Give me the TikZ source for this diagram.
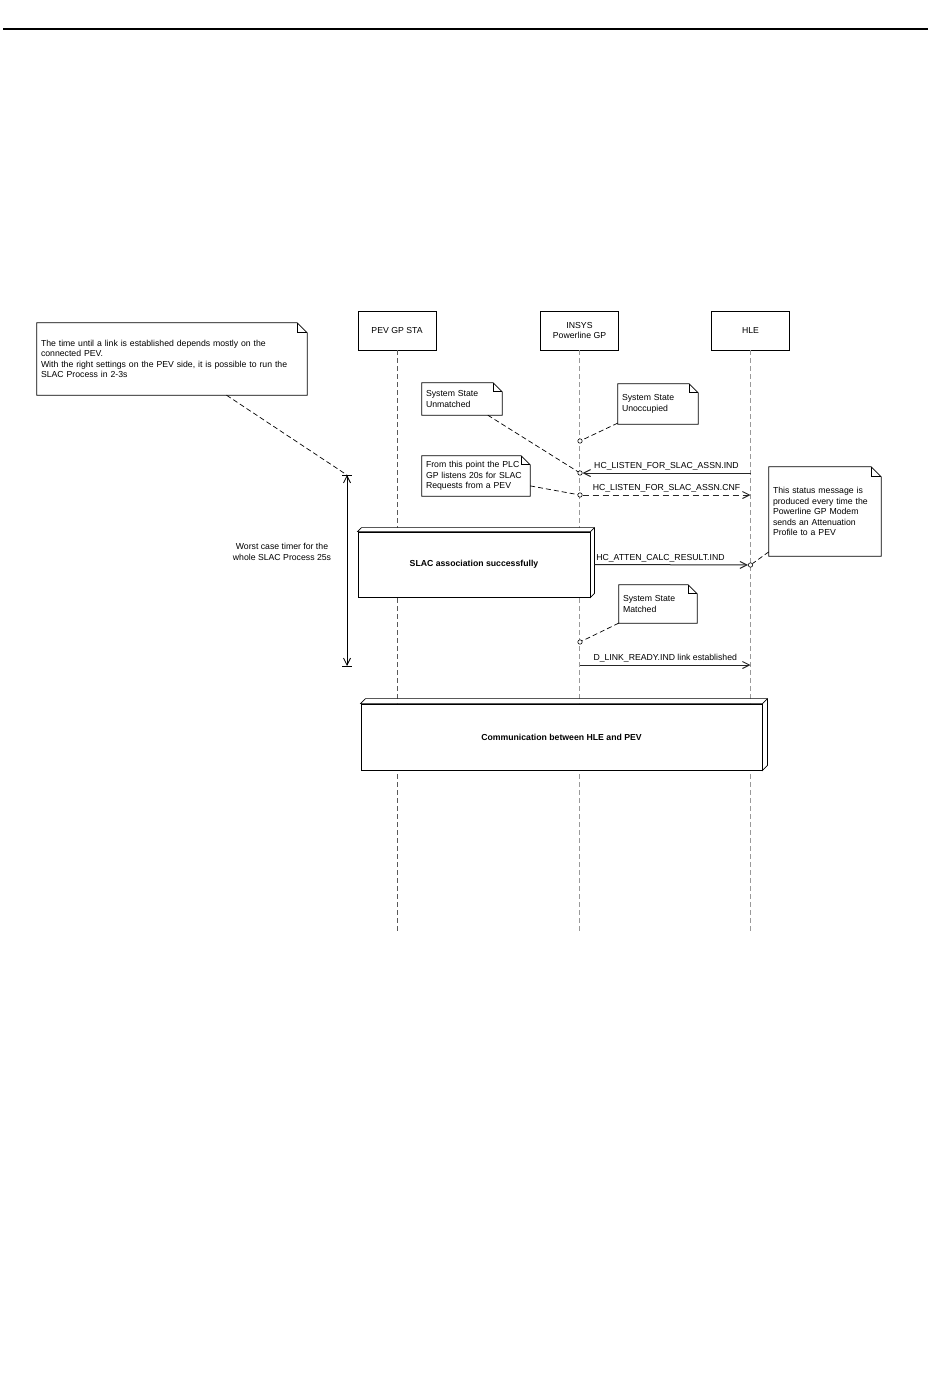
\documentclass[tikz,border=0pt]{standalone}
\usepackage{fontspec}
\setmainfont{Liberation Sans}
\usetikzlibrary{arrows.meta}

\tikzset{
  every node/.style={font=\fontsize{8.7}{10.5}\selectfont},
  actor/.style={rectangle, draw, fill=white, minimum width=78pt, minimum height=39pt,
                align=center, line width=0.8pt},
  lifeline/.style={dash pattern=on 5pt off 3pt, draw=gray!80, line width=0.7pt},
  note/.style={rectangle, fill=white, align=left, inner xsep=4pt, inner ysep=0pt},
  notelink/.style={dash pattern=on 5pt off 3pt, line width=0.7pt},
  msg/.style={line width=1pt, draw=black!85, -{Straight Barb[length=7pt,width=7pt]}},
  msglabel/.style={above=1pt, inner sep=1pt},
  anchorpt/.style={circle, draw, fill=white, inner sep=0pt, minimum size=4.4pt, line width=0.6pt},
  block/.style={rectangle, draw, fill=white, line width=0.8pt,
                font=\fontsize{8.7}{10.5}\selectfont\bfseries},
}

% note outline with folded corner
\newcommand{\dogear}[2][9pt]{%
  \draw[line width=0.7pt] (#2.north west) -- ([xshift=-#1]#2.north east)
    -- ([yshift=-#1]#2.north east) -- (#2.south east) -- (#2.south west) -- cycle;
  \draw[line width=0.7pt] ([xshift=-#1]#2.north east) -- ([xshift=-#1,yshift=-#1]#2.north east)
    -- ([yshift=-#1]#2.north east);}

% top and right faces of a 3d block
\newcommand{\slab}[2]{%
  \draw[line width=0.7pt, fill=white] (#1.north west) -- ++(#2pt,#2pt)
    -- ([shift={(#2pt,#2pt)}]#1.north east) -- ([shift={(#2pt,#2pt)}]#1.south east)
    -- (#1.south east) -- (#1.north east) -- cycle;
  \draw[line width=0.7pt] (#1.north east) -- ++(#2pt,#2pt);}

\begin{document}
\begin{tikzpicture}[x=1pt, y=-1pt]
\fill[white] (0,0) rectangle (950,1397);
\useasboundingbox (0,0) rectangle (950,1397);

\draw[line width=1.3pt] (3,29) -- (928,29);

% participants
\node[actor] (pev) at (397,330.5) {PEV GP STA};
\node[actor] (insys) at (579.5,330.5) {INSYS\\Powerline GP};
\node[actor] (hle) at (750.5,330.5) {HLE};

\coordinate (pevend) at (397,933);
\coordinate (insysend) at (579.5,933);
\coordinate (hleend) at (750.5,933);
\draw[lifeline, draw=black!65] (pev) -- (pevend);
\draw[lifeline] (insys) -- (insysend);
\draw[lifeline] (hle) -- (hleend);

% timer
\coordinate (tmtop) at (347,475);
\coordinate (tmbot) at (347,666);
\draw[line width=0.8pt, {Straight Barb[length=7pt,width=7pt]}-{Straight Barb[length=7pt,width=7pt]}] (tmtop) -- (tmbot);
\draw[line width=0.8pt] ([xshift=-5pt]tmtop) -- ([xshift=5pt]tmtop);
\draw[line width=0.8pt] ([xshift=-5pt]tmbot) -- ([xshift=5pt]tmbot);
\node[align=center] (tmlabel) at (282,552) {Worst case timer for the\\whole SLAC Process 25s};

% points on the lifelines
\node[anchorpt] (pUnocc) at (580,441) {};
\node[anchorpt] (pInd) at (580,473) {};
\node[anchorpt] (pCnf) at (580,495) {};
\node[anchorpt] (pAtten) at (750.5,565) {};
\node[anchorpt] (pMatch) at (580,642) {};

% blocks
\node[block, minimum width=232pt, minimum height=65pt] (slac) at (474,564.5) {SLAC association successfully};
\slab{slac}{4}
\node[block, minimum width=401pt, minimum height=66pt] (comm) at (561.5,737) {Communication between HLE and PEV};
\slab{comm}{5}

% messages
\coordinate (hleInd) at (750.5,473);
\coordinate (hleCnf) at (750.5,495);
\coordinate (insysLink) at (580,665);
\coordinate (hleLink) at (750.5,665);
\draw[msg] (hleInd) -- node[msglabel] {HC\_LISTEN\_FOR\_SLAC\_ASSN.IND} (pInd);
\draw[msg, dash pattern=on 6pt off 4pt] (pCnf) -- node[msglabel] {HC\_LISTEN\_FOR\_SLAC\_ASSN.CNF} (hleCnf);
\draw[msg] ([xshift=4pt]slac.east) -- node[msglabel, pos=0.43] {HC\_ATTEN\_CALC\_RESULT.IND} (pAtten);
\draw[msg] (insysLink) -- node[msglabel] {D\_LINK\_READY.IND link established} (hleLink);

% notes
\node[note, minimum width=270pt, minimum height=72pt, text width=262pt] (timenote) at (172,359)
  {The time until a link is established depends mostly on the\\connected PEV.\\With the right settings on the PEV side, it is possible to run the\\SLAC Process in 2-3s};
\dogear[10pt]{timenote}
\node[note, minimum width=80pt, minimum height=32pt, text width=72pt] (unmatched) at (462,399)
  {System State\\Unmatched};
\dogear{unmatched}
\node[note, minimum width=80pt, minimum height=40pt, text width=72pt] (unoccupied) at (658,404)
  {System State\\Unoccupied};
\dogear{unoccupied}
\node[note, minimum width=108pt, minimum height=40pt, text width=100pt] (fromnote) at (476,476)
  {From this point the PLC\\GP listens 20s for SLAC\\Requests from a PEV};
\dogear{fromnote}
\node[note, minimum width=112pt, minimum height=89pt, text width=104pt] (statusnote) at (825,511.5)
  {This status message is\\produced every time the\\Powerline GP Modem\\sends an Attenuation\\Profile to a PEV};
\dogear[10pt]{statusnote}
\node[note, minimum width=78pt, minimum height=38pt, text width=70pt] (matched) at (658,604)
  {System State\\Matched};
\dogear{matched}

% note links
\draw[notelink] (timenote) -- (tmtop);
\draw[notelink] (unmatched) -- (pInd);
\draw[notelink] (unoccupied) -- (pUnocc);
\draw[notelink] (fromnote) -- (pCnf);
\draw[notelink] (statusnote) -- (pAtten);
\draw[notelink] (matched) -- (pMatch);
\end{tikzpicture}
\end{document}
